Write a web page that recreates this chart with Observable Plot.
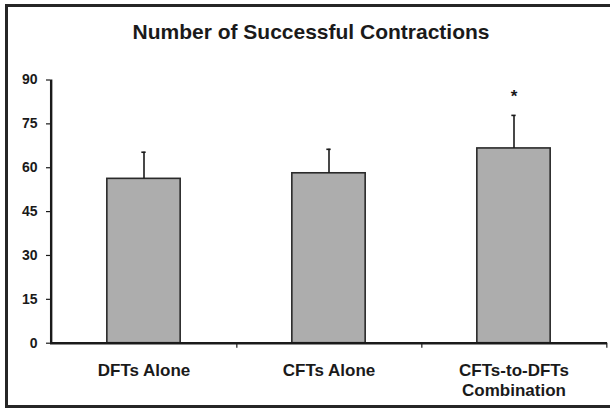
<!DOCTYPE html>
<html>
<head>
<meta charset="utf-8">
<script src="https://cdn.jsdelivr.net/npm/d3@7"></script>
<script src="https://cdn.jsdelivr.net/npm/@observablehq/plot@0.6"></script>
<style>
  html, body { margin: 0; padding: 0; background: #fff; overflow: hidden; }
  #wrap { position: relative; width: 610px; height: 411px; overflow: hidden; background: #fff;
          font-family: "Liberation Sans", Arial, sans-serif; }
  .edge { position: absolute; background: #262626; }
  #title { position: absolute; left: 0; top: 21px; width: 622px; text-align: center;
           font-size: 21px; font-weight: bold; color: #1a1a1a; line-height: 22px; }
  #chart { position: absolute; left: 0; top: 0; }
</style>
</head>
<body>
<div id="wrap">
  <div class="edge" style="left:5px; top:4px; width:605px; height:3px;"></div>
  <div class="edge" style="left:5px; top:4px; width:3px; height:404px;"></div>
  <div class="edge" style="left:5px; top:405px; width:605px; height:3px;"></div>
  <div id="title">Number of Successful Contractions</div>
  <div id="chart"></div>
</div>
<script>
// Treatment groups
const categories = ["DFTs Alone", "CFTs Alone", "CFTs-to-DFTs\nCombination"];
// Mean number of successful contractions per group
const means = [56.2, 58.1, 66.6];
// Standard deviation (upper error bar)
const sds = [9.1, 8.2, 11.3];
// Significance marker
const markers = ["", "", "*"];
const markerValue = [null, null, 84.5];
// Y tick values
const yTicks = [0, 15, 30, 45, 60, 75, 90];

const rows = categories.map((c, i) => ({
  group: c, mean: means[i], top: means[i] + sds[i], marker: markers[i], mv: markerValue[i]
}));

const W = 610, H = 411;
const mL = 50, mR = 3, mT = 79.5, mB = 68.3;
const step = (W - mL - mR) / categories.length;

const font = "Liberation Sans, Arial, sans-serif";

const plot = Plot.plot({
  width: W,
  height: H,
  marginLeft: mL,
  marginRight: mR,
  marginTop: mT,
  marginBottom: mB,
  style: { fontFamily: font, background: "transparent", color: "#1a1a1a" },
  x: { domain: categories, padding: 0, label: null },
  y: { domain: [0, 90], label: null },
  marks: [
    // bars
    Plot.barY(rows, {
      x: "group", y: "mean", fill: "#adadad", stroke: "#2a2a2a", strokeWidth: 1.6,
      insetLeft: step / 2 - 37, insetRight: step / 2 - 37
    }),
    // error bars
    Plot.ruleX(rows, { x: "group", y1: "mean", y2: "top", stroke: "#1a1a1a", strokeWidth: 1.6 }),
    Plot.tickY(rows, {
      y: "top", x: "group", stroke: "#1a1a1a", strokeWidth: 1.6,
      insetLeft: step / 2 - 2.5, insetRight: step / 2 - 2.5
    }),
    // significance asterisk
    Plot.text(rows.filter(d => d.marker), {
      x: "group", y: "mv", text: "marker", fontSize: 17, fontWeight: "bold", fill: "#1a1a1a"
    }),
    // y axis
    Plot.axisY({
      ticks: yTicks, tickSize: 4, tickPadding: 9, fontSize: 14, fontWeight: "bold",
      stroke: "#1a1a1a", strokeWidth: 1.2, label: null
    }),
    Plot.ruleX([0], { x: () => categories[0], dx: -step / 2, stroke: "#1a1a1a", strokeWidth: 2.4 }),
    // x axis: tick marks between groups
    Plot.axisX({
      tickSize: 5, tickFormat: () => "", dx: step / 2, stroke: "#1a1a1a", strokeWidth: 1.2, label: null
    }),
    // x axis: group labels
    Plot.axisX({
      tickSize: 0, tickPadding: 18, fontSize: 17, fontWeight: "bold", lineHeight: 1.2,
      fill: "#1a1a1a", label: null
    }),
    Plot.ruleY([0], { stroke: "#1a1a1a", strokeWidth: 2.6 })
  ]
});

document.getElementById("chart").appendChild(plot);
</script>
</body>
</html>
